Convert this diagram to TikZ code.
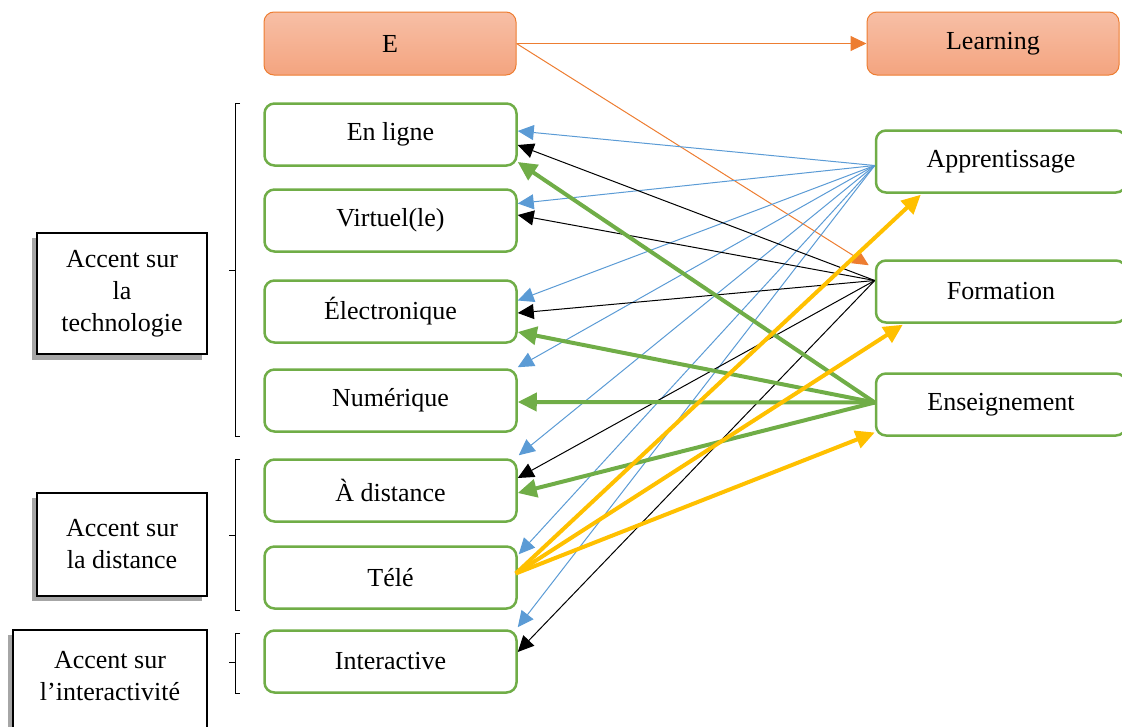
\documentclass[tikz,border=0pt]{standalone}
\usepackage{fontspec}
\setmainfont{Liberation Serif}
\usetikzlibrary{arrows.meta,calc}
\definecolor{oblue}{HTML}{5B9BD5}
\definecolor{ogreen}{HTML}{70AD47}
\definecolor{oorange}{HTML}{ED7D31}
\definecolor{oyellow}{HTML}{FFC000}
\definecolor{otop}{HTML}{F7BFA6}
\definecolor{obot}{HTML}{F4A47F}
\definecolor{shadowgray}{HTML}{A6A6A6}
\begin{document}
\begin{tikzpicture}[x=1pt,y=-1pt,
  every node/.style={font=\fontsize{26}{32}\selectfont, align=center, inner sep=0pt},
  headbox/.style={rectangle, rounded corners=10pt, draw=oorange, line width=1pt,
    top color=otop, bottom color=obot, minimum width=252pt, minimum height=63pt},
  termbox/.style={rectangle, rounded corners=10pt, draw=ogreen, line width=2.5pt,
    fill=white, minimum width=252pt, minimum height=62pt},
  accbox/.style={rectangle, draw=black, line width=1.5pt, fill=white},
  thinhead/.style={-{Triangle[length=16pt 0 0,width=15pt 0 0]}},
  thickhead/.style={-{Triangle[length=19pt 0 0,width=18pt 0 0]}},
  thinblue/.style={draw=oblue, line width=1pt, thinhead},
  thinblack/.style={draw=black, line width=1pt, thinhead},
  thinorange/.style={draw=oorange, line width=1pt, thinhead},
  thickgreen/.style={draw=ogreen, line width=4pt, thickhead},
  thickyellow/.style={draw=oyellow, line width=4pt, thickhead},
  brack/.style={draw=black, line width=1pt}
]
\useasboundingbox (0,0) rectangle (1122,726);
\clip (0,0) rectangle (1122,726);

% left accent boxes with shadows
\fill[shadowgray] (32,238) rectangle (202,360);
\node[accbox, minimum width=170pt, minimum height=121pt] (acctech) at (122,293.5) {Accent sur\\la\\technologie};
\fill[shadowgray] (32,498) rectangle (202,601);
\node[accbox, minimum width=170pt, minimum height=103pt] (accdist) at (122,544.5) {Accent sur\\la distance};
\fill[shadowgray] (8,635) rectangle (202,740);
\node[accbox, minimum width=194pt, minimum height=110pt] (accinter) at (110,685) {};
\node (accintertext) at (110,676) {Accent sur\\l’interactivité};

% brackets
\draw[brack] (240,103) -- (235,103) -- (235,436) -- (240,436);
\draw[brack] (229,270) -- (235,270);
\draw[brack] (240,459) -- (235,459) -- (235,610) -- (240,610);
\draw[brack] (229,535) -- (235,535);
\draw[brack] (240,633) -- (235,633) -- (235,693) -- (240,693);
\draw[brack] (229,662) -- (235,662);

% header boxes
\node[headbox] (E) at (390,43.5) {E};
\node[headbox] (L) at (993,43.5) {Learning};

% left term boxes
\node[termbox] (enligne) at (390.5,134.5) {En ligne};
\node[termbox] (virtuel) at (390.5,220.5) {Virtuel(le)};
\node[termbox] (electro) at (390.5,311.5) {Électronique};
\node[termbox] (numer) at (390.5,400.5) {Numérique};
\node[termbox] (dist) at (390.5,490.5) {À distance};
\node[termbox] (tele) at (390.5,577.5) {Télé};
\node[termbox] (inter) at (390.5,661.5) {Interactive};

% right term boxes
\node[termbox, minimum width=250pt] (appr) at (1001,161.5) {Apprentissage};
\node[termbox, minimum width=250pt] (form) at (1001,291.5) {Formation};
\node[termbox, minimum width=250pt] (ens) at (1001,404.5) {Enseignement};

% source points
\coordinate (aS) at ($(appr.west)+(0,4)$);
\coordinate (fS) at ($(form.west)+(0,-11)$);
\coordinate (eS) at ($(ens.west)+(0,-2)$);
\coordinate (tS) at ($(tele.east)+(-2,-4)$);

% orange
\draw[thinorange] (E.east) -- (L.west);
\draw[thinorange] (E.east) -- ($(form.north west)+(-6,6)$);

% blue from Apprentissage
\draw[thinblue] (aS) -- ($(enligne.east)+(0,-3.5)$);
\draw[thinblue] (aS) -- ($(virtuel.east)+(0,-17)$);
\draw[thinblue] (aS) -- ($(electro.east)+(0,-11)$);
\draw[thinblue] (aS) -- ($(numer.north east)+(0,-1)$);
\draw[thinblue] (aS) -- ($(dist.north east)+(1,-3)$);
\draw[thinblue] (aS) -- ($(tele.north east)+(1,9)$);
\draw[thinblue] (aS) -- ($(inter.north east)+(0,-2)$);

% black from Formation
\draw[thinblack] (fS) -- ($(enligne.east)+(0,10.5)$);
\draw[thinblack] (fS) -- ($(virtuel.east)+(0,-5.5)$);
\draw[thinblack] (fS) -- ($(electro.east)+(0,1.5)$);
\draw[thinblack] (fS) -- ($(dist.east)+(0,-12.5)$);
\draw[thinblack] (fS) -- ($(inter.east)+(0,-9.5)$);

% green from Enseignement
\draw[thickgreen] (eS) -- ($(enligne.east)+(0,27.5)$);
\draw[thickgreen] (eS) -- ($(electro.east)+(0,20.5)$);
\draw[thickgreen] (eS) -- ($(numer.east)+(0,1.5)$);
\draw[thickgreen] (eS) -- ($(dist.east)+(0,2.5)$);

% yellow from Télé
\draw[thickyellow] (tS) -- ($(appr.south west)+(46,1)$);
\draw[thickyellow] (tS) -- ($(form.south west)+(28,1)$);
\draw[thickyellow] (tS) -- ($(ens.west)+(0,28)$);
\end{tikzpicture}
\end{document}
